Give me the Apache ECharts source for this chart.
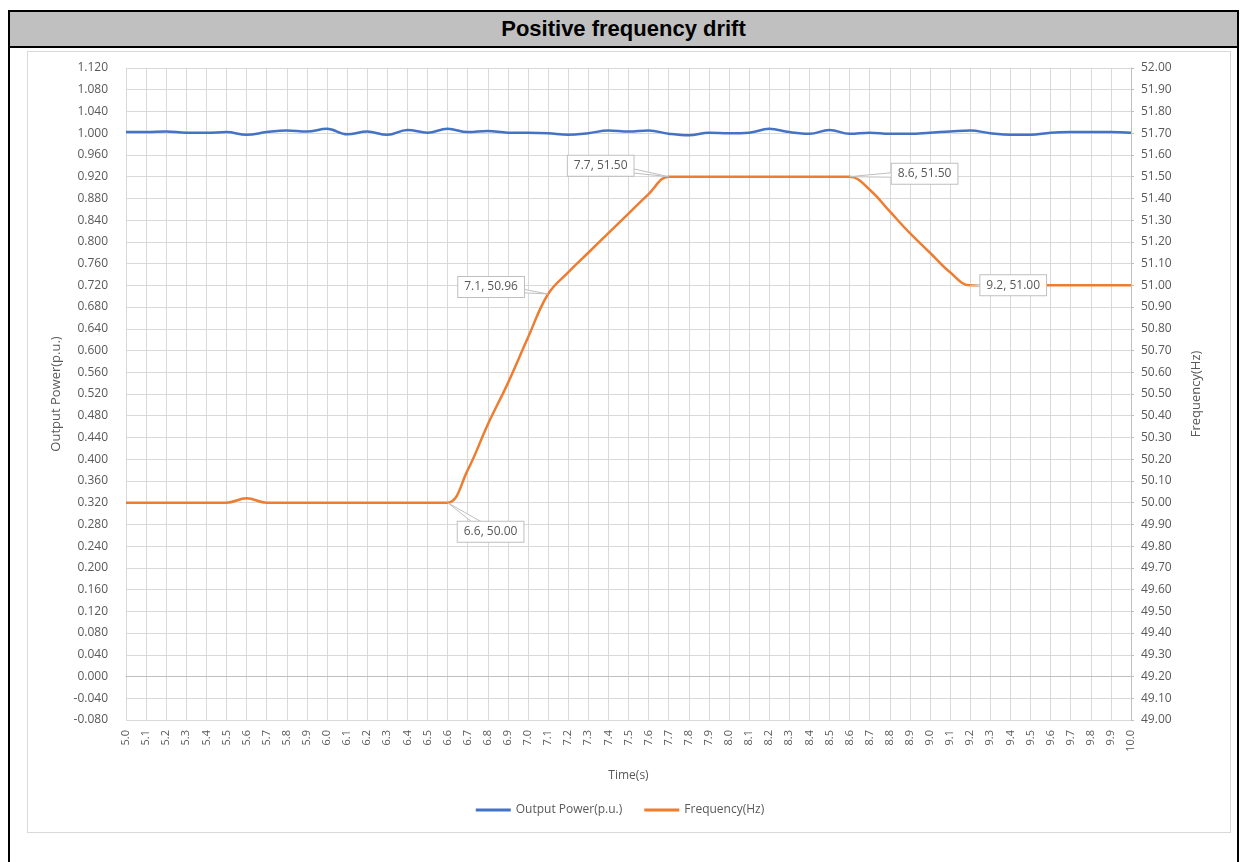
<!DOCTYPE html>
<html>
<head>
<meta charset="utf-8">
<title>Positive frequency drift</title>
<script src="https://cdn.jsdelivr.net/npm/echarts@6/dist/echarts.min.js"></script>
<style>
  html, body { margin: 0; padding: 0; background: #fff; }
  #frame {
    position: absolute; left: 8px; top: 10px; width: 1227px; height: 860px;
    border: 2px solid #000; border-bottom: none;
  }
  #titleBar {
    height: 34px; line-height: 34px; background: #c0c0c0;
    border-bottom: 2px solid #000; text-align: center;
    font-family: "Liberation Sans", Arial, sans-serif; font-weight: bold; font-size: 22px; color: #000;
  }
  #panel {
    position: absolute; left: 17px; top: 39px; width: 1202px; height: 780px;
    border: 1px solid #d9d9d9;
  }
  #chart { position: absolute; left: 0; top: 0; width: 1240px; height: 862px; }
</style>
</head>
<body>
<div id="frame">
  <div id="titleBar">Positive frequency drift</div>
  <div id="panel"></div>
</div>
<div id="chart"></div>
<script>
// time axis (s)
var times = [5.0, 5.1, 5.2, 5.3, 5.4, 5.5, 5.6, 5.7, 5.8, 5.9,
             6.0, 6.1, 6.2, 6.3, 6.4, 6.5, 6.6, 6.7, 6.8, 6.9,
             7.0, 7.1, 7.2, 7.3, 7.4, 7.5, 7.6, 7.7, 7.8, 7.9,
             8.0, 8.1, 8.2, 8.3, 8.4, 8.5, 8.6, 8.7, 8.8, 8.9,
             9.0, 9.1, 9.2, 9.3, 9.4, 9.5, 9.6, 9.7, 9.8, 9.9, 10.0];

// output power (p.u.), left axis
var power = [1.002, 1.002, 1.003, 1.001, 1.001, 1.002, 0.997, 1.002, 1.005, 1.003,
             1.008, 0.998, 1.003, 0.997, 1.006, 1.001, 1.008, 1.002, 1.004, 1.001,
             1.001, 1.000, 0.997, 1.000, 1.005, 1.003, 1.005, 0.999, 0.996, 1.001,
             1.000, 1.001, 1.008, 1.002, 0.999, 1.006, 0.999, 1.001, 0.999, 0.999,
             1.001, 1.003, 1.005, 1.000, 0.997, 0.997, 1.001, 1.002, 1.002, 1.002, 1.001];

// frequency (Hz), right axis
var freq = [50.00, 50.00, 50.00, 50.00, 50.00, 50.00, 50.02, 50.00, 50.00, 50.00,
            50.00, 50.00, 50.00, 50.00, 50.00, 50.00, 50.00, 50.15, 50.36, 50.55,
            50.76, 50.96, 51.06, 51.15, 51.24, 51.33, 51.42, 51.50, 51.50, 51.50,
            51.50, 51.50, 51.50, 51.50, 51.50, 51.50, 51.50, 51.44, 51.34, 51.24,
            51.15, 51.06, 51.00, 51.00, 51.00, 51.00, 51.00, 51.00, 51.00, 51.00, 51.00];

// points that carry a data callout
var calloutTimes = [6.6, 7.1, 7.7, 8.6, 9.2];

var seriesNames = ["Output Power(p.u.)", "Frequency(Hz)"];

var textColor = "#595959";
var gridColor = "#d9d9d9";
var font = "Open Sans";

function pairs(xs, ys) {
  var out = [];
  for (var i = 0; i < xs.length; i++) {
    out.push([xs[i], ys[i]]);
  }
  return out;
}

var chart = echarts.init(document.getElementById("chart"));

var option = {
  animation: false,
  textStyle: { fontFamily: font },
  grid: { left: 126, right: 109, top: 68, bottom: 142 },
  legend: {
    data: seriesNames,
    top: 799,
    left: "center",
    icon: "rect",
    itemWidth: 35,
    itemHeight: 3,
    itemGap: 22,
    textStyle: { color: textColor, fontSize: 12, fontFamily: font }
  },
  xAxis: {
    type: "value",
    min: 5,
    max: 10,
    interval: 0.1,
    name: "Time(s)",
    nameLocation: "middle",
    nameGap: 50,
    nameTextStyle: { color: textColor, fontSize: 12 },
    axisLine: { show: true, lineStyle: { color: "#bfbfbf" } },
    axisTick: { show: false },
    axisLabel: {
      rotate: 90,
      margin: 10,
      color: textColor,
      fontSize: 11,
      showMinLabel: true,
      showMaxLabel: true,
      formatter: function (v) { return v.toFixed(1); }
    },
    splitLine: { show: true, lineStyle: { color: gridColor } }
  },
  yAxis: [
    {
      type: "value",
      min: -0.08,
      max: 1.12,
      interval: 0.04,
      name: "Output Power(p.u.)",
      nameLocation: "middle",
      nameRotate: 90,
      nameGap: 62,
      nameTextStyle: { color: textColor, fontSize: 13 },
      axisLine: { show: false },
      axisTick: { show: false },
      axisLabel: {
        margin: 18,
        color: textColor,
        fontSize: 12,
        formatter: function (v) { return v.toFixed(3); }
      },
      splitLine: { show: true, lineStyle: { color: gridColor } }
    },
    {
      type: "value",
      position: "right",
      min: 49,
      max: 52,
      interval: 0.1,
      name: "Frequency(Hz)",
      nameLocation: "middle",
      nameRotate: 90,
      nameGap: 59,
      nameTextStyle: { color: textColor, fontSize: 13 },
      axisLine: { show: true, lineStyle: { color: "#bfbfbf" } },
      axisTick: { show: true, length: 3, lineStyle: { color: "#bfbfbf" } },
      axisLabel: {
        margin: 10,
        color: textColor,
        fontSize: 12,
        formatter: function (v) { return v.toFixed(2); }
      },
      splitLine: { show: false }
    }
  ],
  series: [
    {
      name: seriesNames[0],
      type: "line",
      yAxisIndex: 0,
      data: pairs(times, power),
      smooth: 0.4,
      showSymbol: false,
      lineStyle: { color: "#4472C4", width: 2.5 },
      itemStyle: { color: "#4472C4" }
    },
    {
      name: seriesNames[1],
      type: "line",
      yAxisIndex: 1,
      data: pairs(times, freq),
      smooth: 0.4,
      showSymbol: false,
      lineStyle: { color: "#ED7D31", width: 2.5 },
      itemStyle: { color: "#ED7D31" }
    }
  ]
};

chart.setOption(option);

// data callouts: box centre shifted from the point (px), wedge pointing back at it
var calloutShift = [[43, 29], [-57, -7], [-68, -11], [75, -3], [43, 0]];
var callouts = [];
for (var i = 0; i < calloutTimes.length; i++) {
  var idx = times.indexOf(calloutTimes[i]);
  var p = chart.convertToPixel({ xAxisIndex: 0, yAxisIndex: 1 }, [times[idx], freq[idx]]);
  var cx = p[0] + calloutShift[i][0];
  var cy = p[1] + calloutShift[i][1];
  var len = Math.sqrt(calloutShift[i][0] * calloutShift[i][0] + calloutShift[i][1] * calloutShift[i][1]);
  var nx = -calloutShift[i][1] / len * 4;
  var ny = calloutShift[i][0] / len * 4;
  callouts.push({
    type: "polygon",
    z: 100,
    shape: { points: [[p[0], p[1]], [cx + nx, cy + ny], [cx - nx, cy - ny]] },
    style: { fill: "#fff", stroke: "#bfbfbf", lineWidth: 1 }
  });
  callouts.push({
    type: "text",
    z: 101,
    x: cx,
    y: cy,
    style: {
      text: times[idx].toFixed(1) + ", " + freq[idx].toFixed(2),
      align: "center",
      verticalAlign: "middle",
      fill: textColor,
      font: "12px 'Open Sans'",
      backgroundColor: "#fff",
      borderColor: "#bfbfbf",
      borderWidth: 1,
      padding: [4, 6]
    }
  });
}
chart.setOption({ graphic: callouts });
</script>
</body>
</html>
